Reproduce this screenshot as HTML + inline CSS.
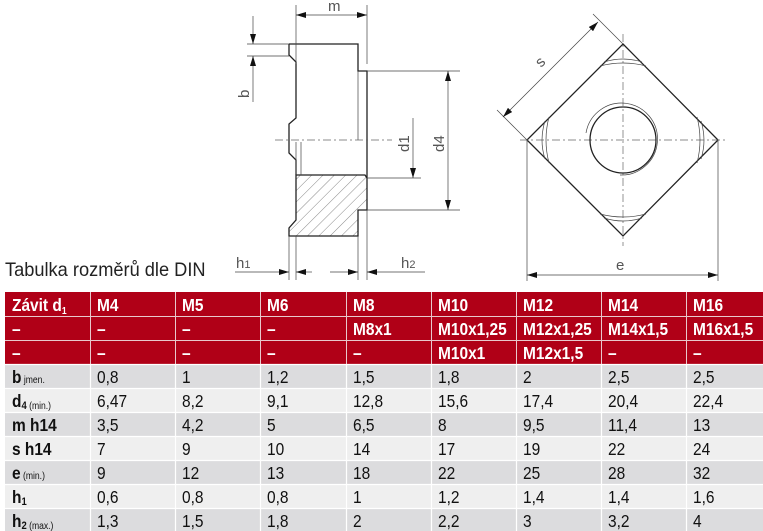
<!DOCTYPE html>
<html><head><meta charset="utf-8"><style>
html,body{margin:0;padding:0;background:#fff;width:763px;height:531px;overflow:hidden}
svg{display:block}
.t text{transform-box:fill-box;transform-origin:0 50%;transform:scaleX(0.86)}
.cond{transform-box:fill-box;transform-origin:0 50%;transform:scaleX(0.96)}
.t{font-family:"Liberation Sans",sans-serif;font-size:18px}
.h{fill:#fff;font-weight:bold}
.d{fill:#111}
.dl{fill:#111;font-weight:bold}
.ln{stroke:#222;fill:none;stroke-width:1.3}
.th{stroke:#444;fill:none;stroke-width:0.7}
.cl{stroke:#666;fill:none;stroke-width:0.7;stroke-dasharray:8 3 2 3}
.lab{font-family:"Liberation Sans",sans-serif;font-size:15px;fill:#555}
</style></head><body>
<svg width="763" height="531" viewBox="0 0 763 531" xmlns="http://www.w3.org/2000/svg">
<defs>
<marker id="a" viewBox="0 0 10 6" refX="10" refY="3" markerWidth="10" markerHeight="6" orient="auto-start-reverse" markerUnits="userSpaceOnUse"><path d="M0,0 L10,3 L0,6z" fill="#111"/></marker>
<pattern id="hat" patternUnits="userSpaceOnUse" width="8" height="8" patternTransform="rotate(45)"><line x1="0" y1="0" x2="0" y2="8" stroke="#555" stroke-width="0.7"/></pattern>
<clipPath id="hc"><path d="M296,175 L365,175 L367,178 L367,210 L358,210 L358,236 L289,236 L289,228 L296,220 Z"/></clipPath>
</defs>

<rect x="285" y="170" width="90" height="70" fill="url(#hat)" clip-path="url(#hc)"/>
<path class="ln" d="M289,44 L358,44 L358,71 L367,71 L367,210 L358,210 L358,236 L289,236 L289,228 L296,220 L296,175 L365,175 L367,178"/>
<path class="ln" d="M289,44 L289,55 L296,62 L296,118 L289,124 L289,153 L296,160 L296,175"/>
<path class="th" d="M296,142 L296,175 M301,142 L301,175 M358,71 L358,140"/>
<line class="cl" x1="275" y1="140" x2="392" y2="140"/>
<path class="th" d="M296,5 L296,64 M367,5 L367,64"/>
<line class="th" x1="296" y1="15" x2="367" y2="15" marker-start="url(#a)" marker-end="url(#a)"/>
<text class="lab" x="328" y="11">m</text>
<path class="th" d="M247,44 L289,44 M247,56 L289,56"/>
<line class="th" x1="253" y1="16" x2="253" y2="44" marker-end="url(#a)"/>
<line class="th" x1="253" y1="56" x2="253" y2="102" marker-start="url(#a)"/>
<text class="lab" transform="translate(249,98) rotate(-90)">b</text>
<path class="th" d="M367,71 L460,71 M367,210 L460,210"/>
<line class="th" x1="448" y1="71" x2="448" y2="210" marker-start="url(#a)" marker-end="url(#a)"/>
<text class="lab" transform="translate(444,152) rotate(-90)">d4</text>
<path class="th" d="M367,178 L421,178"/>
<line class="th" x1="413" y1="118" x2="413" y2="178" marker-end="url(#a)"/>
<text class="lab" transform="translate(409,152) rotate(-90)">d1</text>
<path class="th" d="M289,236 L289,280 M296,236 L296,280 M358,236 L358,280 M367,210 L367,280"/>
<line class="th" x1="235" y1="272" x2="289" y2="272" marker-end="url(#a)"/>
<line class="th" x1="296" y1="272" x2="312" y2="272" marker-start="url(#a)"/>
<line class="th" x1="330" y1="272" x2="358" y2="272" marker-end="url(#a)"/>
<line class="th" x1="367" y1="272" x2="425" y2="272" marker-start="url(#a)"/>
<text class="lab" x="236" y="268">h<tspan font-size="11">1</tspan></text>
<text class="lab" x="401" y="268">h<tspan font-size="11">2</tspan></text>

<path class="ln" d="M623,44 L718,140 L623,236 L527,140 Z"/>
<line class="cl" x1="520" y1="140" x2="728" y2="140"/>
<line class="cl" x1="623" y1="34" x2="623" y2="246"/>
<circle class="ln" cx="623" cy="140" r="33"/>
<path class="th" d="M620,175 A36,36 0 1 0 586,133"/>
<path class="th" d="M604,62 Q623,56 642,62 M600,66 Q623,60 646,66 M604,218 Q623,224 642,218 M600,214 Q623,220 646,214 M545,121 Q539,140 545,159 M549,117 Q543,140 549,163 M701,121 Q707,140 701,159 M697,117 Q703,140 697,163"/>
<path class="th" d="M527,140 L497,110 M623,44 L593,14"/>
<line class="th" x1="503" y1="117" x2="598" y2="22" marker-start="url(#a)" marker-end="url(#a)"/>
<text class="lab" transform="translate(541,68) rotate(-45)">s</text>
<path class="th" d="M527,140 L527,281 M718,140 L718,281"/>
<line class="th" x1="527" y1="275" x2="718" y2="275" marker-start="url(#a)" marker-end="url(#a)"/>
<text class="lab" x="616" y="270">e</text>

<text class="cond" x="5" y="276" font-family="'Liberation Sans',sans-serif" font-size="19" fill="#222">Tabulka rozměrů dle DIN</text>

<rect x="5" y="292" width="758" height="72" fill="#b00017"/>
<rect x="5" y="364" width="758" height="24" fill="#dcdcde"/>
<rect x="5" y="388" width="758" height="24" fill="#efefef"/>
<rect x="5" y="412" width="758" height="24" fill="#dcdcde"/>
<rect x="5" y="436" width="758" height="24" fill="#efefef"/>
<rect x="5" y="460" width="758" height="24" fill="#dcdcde"/>
<rect x="5" y="484" width="758" height="24" fill="#efefef"/>
<rect x="5" y="508" width="758" height="23" fill="#dcdcde"/>
<g stroke="#e8c8cc" stroke-width="1">
<path d="M5,316.5 H763 M5,340.5 H763 M90.5,292 V364 M175.5,292 V364 M260.5,292 V364 M346.5,292 V364 M431.5,292 V364 M516.5,292 V364 M601.5,292 V364 M686.5,292 V364"/>
</g>
<g stroke="#fff" stroke-width="1.2">
<path d="M5,364.5 H763 M5,388.5 H763 M5,412.5 H763 M5,436.5 H763 M5,460.5 H763 M5,484.5 H763 M5,508.5 H763 M90.5,364 V531 M175.5,364 V531 M260.5,364 V531 M346.5,364 V531 M431.5,364 V531 M516.5,364 V531 M601.5,364 V531 M686.5,364 V531"/>
</g>
<g class="t h">
<text x="12" y="311">Závit d<tspan font-size="10" dy="3">1</tspan></text>
<text x="97" y="311">M4</text><text x="182" y="311">M5</text><text x="267" y="311">M6</text><text x="353" y="311">M8</text><text x="438" y="311">M10</text><text x="523" y="311">M12</text><text x="608" y="311">M14</text><text x="693" y="311">M16</text>
<text x="12" y="335">–</text><text x="97" y="335">–</text><text x="182" y="335">–</text><text x="267" y="335">–</text><text x="353" y="335">M8x1</text><text x="438" y="335">M10x1,25</text><text x="523" y="335">M12x1,25</text><text x="608" y="335">M14x1,5</text><text x="693" y="335">M16x1,5</text>
<text x="12" y="359">–</text><text x="97" y="359">–</text><text x="182" y="359">–</text><text x="267" y="359">–</text><text x="353" y="359">–</text><text x="438" y="359">M10x1</text><text x="523" y="359">M12x1,5</text><text x="608" y="359">–</text><text x="693" y="359">–</text>
</g>
<g class="t dl">
<text x="12" y="383">b<tspan font-size="10" font-weight="normal"> jmen.</tspan></text>
<text x="12" y="407">d<tspan font-size="11" dy="2">4</tspan><tspan font-size="10" font-weight="normal"> (min.)</tspan></text>
<text x="12" y="431">m h14</text>
<text x="12" y="455">s h14</text>
<text x="12" y="479">e<tspan font-size="10" font-weight="normal"> (min.)</tspan></text>
<text x="12" y="503">h<tspan font-size="11" dy="2">1</tspan></text>
<text x="12" y="527">h<tspan font-size="11" dy="2">2</tspan><tspan font-size="10" font-weight="normal"> (max.)</tspan></text>
</g>
<g class="t d">
<text x="97" y="383">0,8</text><text x="182" y="383">1</text><text x="267" y="383">1,2</text><text x="353" y="383">1,5</text><text x="438" y="383">1,8</text><text x="523" y="383">2</text><text x="608" y="383">2,5</text><text x="693" y="383">2,5</text>
<text x="97" y="407">6,47</text><text x="182" y="407">8,2</text><text x="267" y="407">9,1</text><text x="353" y="407">12,8</text><text x="438" y="407">15,6</text><text x="523" y="407">17,4</text><text x="608" y="407">20,4</text><text x="693" y="407">22,4</text>
<text x="97" y="431">3,5</text><text x="182" y="431">4,2</text><text x="267" y="431">5</text><text x="353" y="431">6,5</text><text x="438" y="431">8</text><text x="523" y="431">9,5</text><text x="608" y="431">11,4</text><text x="693" y="431">13</text>
<text x="97" y="455">7</text><text x="182" y="455">9</text><text x="267" y="455">10</text><text x="353" y="455">14</text><text x="438" y="455">17</text><text x="523" y="455">19</text><text x="608" y="455">22</text><text x="693" y="455">24</text>
<text x="97" y="479">9</text><text x="182" y="479">12</text><text x="267" y="479">13</text><text x="353" y="479">18</text><text x="438" y="479">22</text><text x="523" y="479">25</text><text x="608" y="479">28</text><text x="693" y="479">32</text>
<text x="97" y="503">0,6</text><text x="182" y="503">0,8</text><text x="267" y="503">0,8</text><text x="353" y="503">1</text><text x="438" y="503">1,2</text><text x="523" y="503">1,4</text><text x="608" y="503">1,4</text><text x="693" y="503">1,6</text>
<text x="97" y="527">1,3</text><text x="182" y="527">1,5</text><text x="267" y="527">1,8</text><text x="353" y="527">2</text><text x="438" y="527">2,2</text><text x="523" y="527">3</text><text x="608" y="527">3,2</text><text x="693" y="527">4</text>
</g>
</svg>
</body></html>
